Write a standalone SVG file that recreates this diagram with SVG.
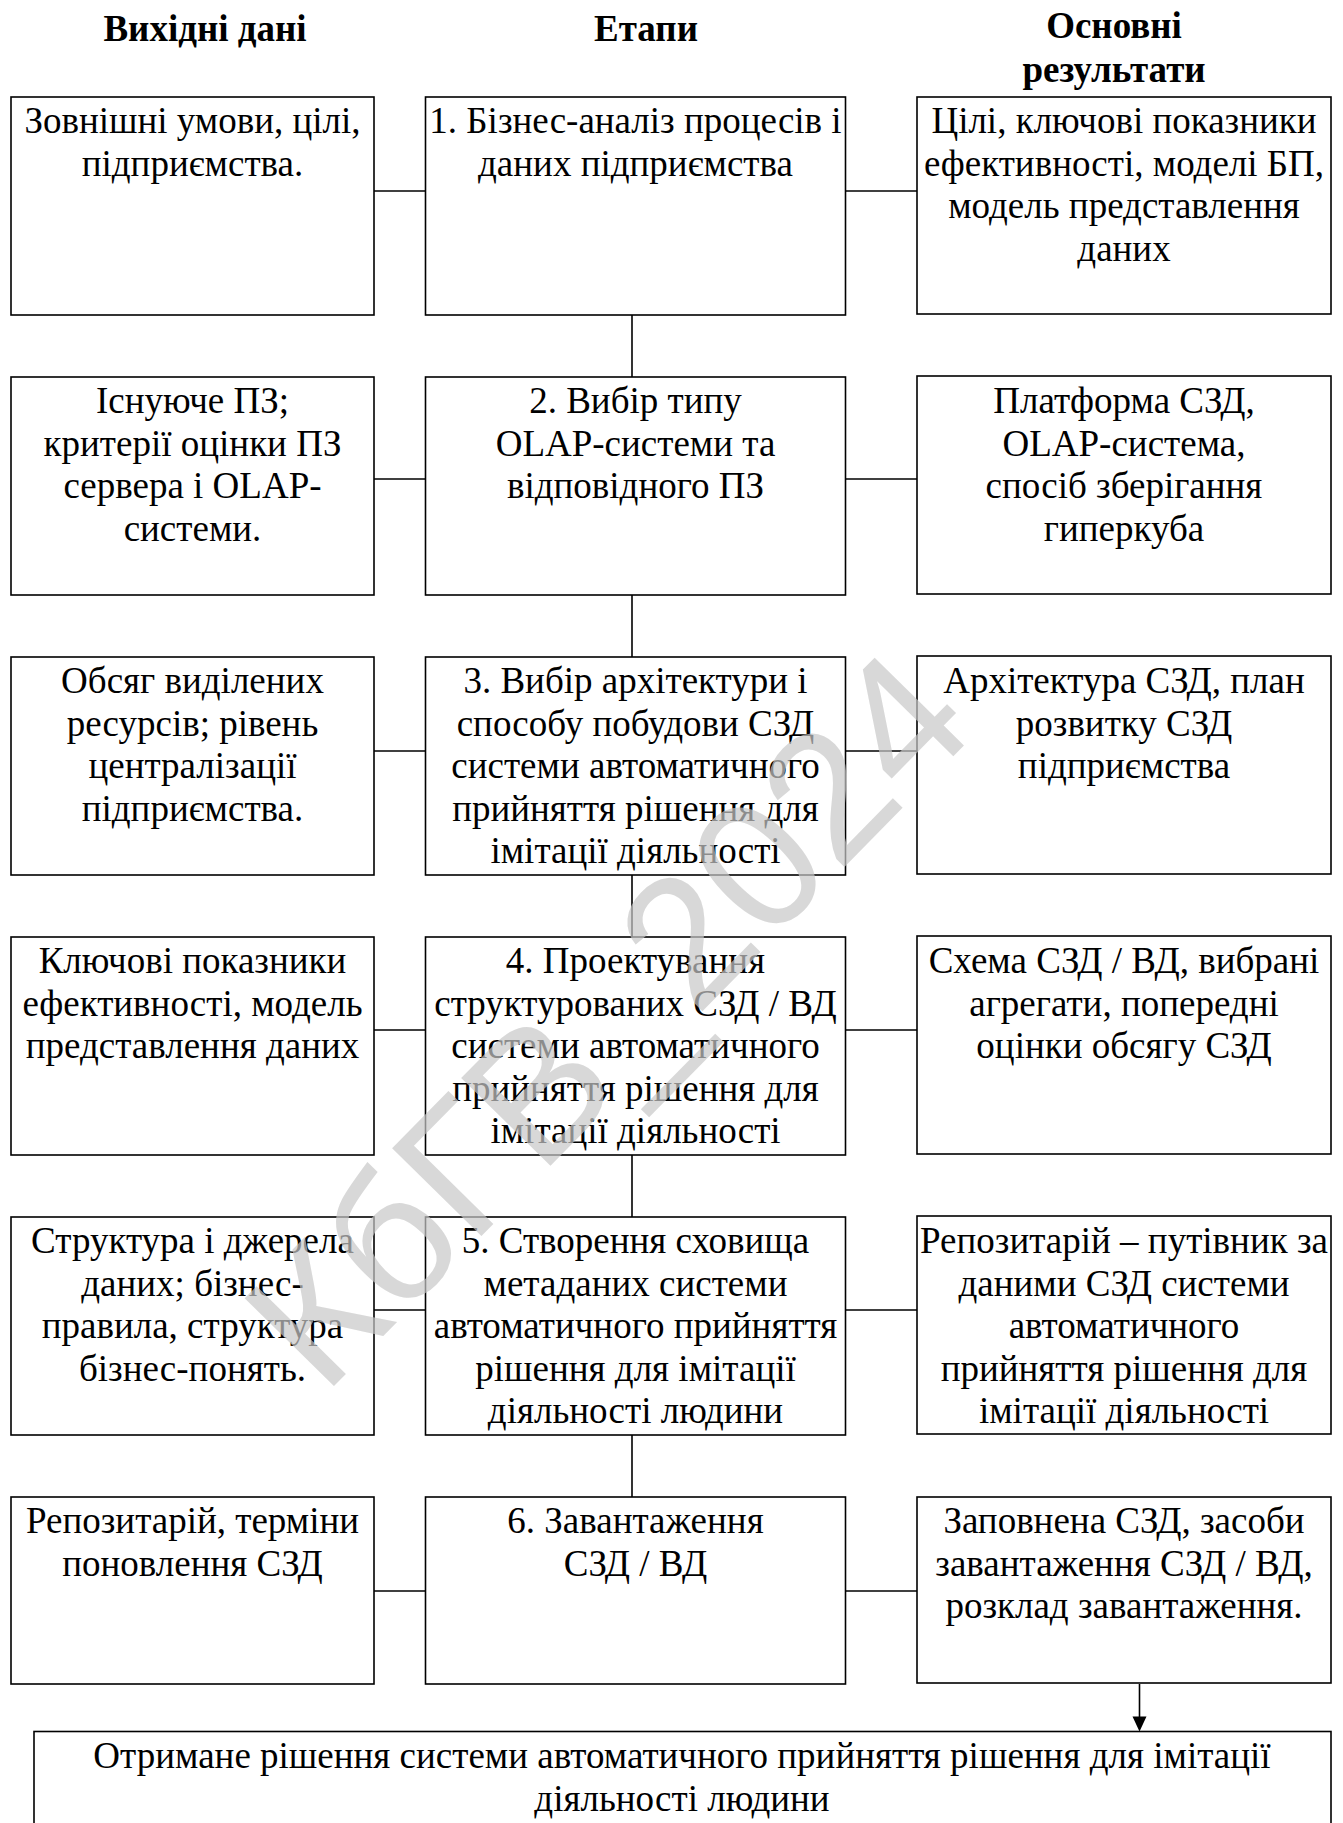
<svg xmlns="http://www.w3.org/2000/svg" width="1343" height="1823" viewBox="0 0 1343 1823">
<style>
.box{fill:#fff;stroke:#000;stroke-width:1.6}
.ln{fill:none;stroke:#000;stroke-width:1.6}
.t{font-family:"Liberation Serif","Times New Roman",serif;font-size:37px;text-anchor:middle;fill:#000}
.h{font-family:"Liberation Serif","Times New Roman",serif;font-size:37px;font-weight:bold;text-anchor:middle;fill:#000}
.wm{font-family:"Liberation Sans",Arial,sans-serif;font-size:182px;text-anchor:middle;fill:#c8c8c8;fill-opacity:0.7}
</style>
<rect width="1343" height="1823" fill="#fff"/>

<g id="headings">
<text class="h" x="205" y="41">Вихідні дані</text>
<text class="h" x="646" y="41">Етапи</text>
<text class="h" x="1114" y="38">Основні</text>
<text class="h" x="1114" y="82">результати</text>
</g>

<g id="connectors">
<line class="ln" x1="374" y1="191" x2="425.5" y2="191"/>
<line class="ln" x1="845.5" y1="191" x2="917" y2="191"/>
<line class="ln" x1="374" y1="479" x2="425.5" y2="479"/>
<line class="ln" x1="845.5" y1="479" x2="917" y2="479"/>
<line class="ln" x1="374" y1="751" x2="425.5" y2="751"/>
<line class="ln" x1="845.5" y1="751" x2="917" y2="751"/>
<line class="ln" x1="374" y1="1030" x2="425.5" y2="1030"/>
<line class="ln" x1="845.5" y1="1030" x2="917" y2="1030"/>
<line class="ln" x1="374" y1="1310" x2="425.5" y2="1310"/>
<line class="ln" x1="845.5" y1="1310" x2="917" y2="1310"/>
<line class="ln" x1="374" y1="1591" x2="425.5" y2="1591"/>
<line class="ln" x1="845.5" y1="1591" x2="917" y2="1591"/>
<line class="ln" x1="632" y1="315" x2="632" y2="377"/>
<line class="ln" x1="632" y1="595" x2="632" y2="657"/>
<line class="ln" x1="632" y1="875" x2="632" y2="937"/>
<line class="ln" x1="632" y1="1155" x2="632" y2="1217"/>
<line class="ln" x1="632" y1="1435" x2="632" y2="1497"/>
<line class="ln" x1="1139.5" y1="1684" x2="1139.5" y2="1718"/>
<path d="M1132.5,1716.5 L1146.5,1716.5 L1139.5,1731.5 Z" fill="#000"/>
</g>

<g id="in1"><rect class="box" x="11" y="97" width="363" height="218"/>
<text class="t" x="192.5" y="133">Зовнішні умови, цілі,</text>
<text class="t" x="192.5" y="175.5">підприємства.</text></g>
<g id="st1"><rect class="box" x="425.5" y="97" width="420" height="218"/>
<text class="t" x="635.5" y="133">1. Бізнес-аналіз процесів і</text>
<text class="t" x="635.5" y="175.5">даних підприємства</text></g>
<g id="out1"><rect class="box" x="917" y="97" width="414" height="217"/>
<text class="t" x="1124" y="133">Цілі, ключові показники</text>
<text class="t" x="1124" y="175.5">ефективності, моделі БП,</text>
<text class="t" x="1124" y="218">модель представлення</text>
<text class="t" x="1124" y="260.5">даних</text></g>

<g id="in2"><rect class="box" x="11" y="377" width="363" height="218"/>
<text class="t" x="192.5" y="413">Існуюче ПЗ;</text>
<text class="t" x="192.5" y="455.5">критерії оцінки ПЗ</text>
<text class="t" x="192.5" y="498">сервера і OLAP-</text>
<text class="t" x="192.5" y="540.5">системи.</text></g>
<g id="st2"><rect class="box" x="425.5" y="377" width="420" height="218"/>
<text class="t" x="635.5" y="413">2. Вибір типу</text>
<text class="t" x="635.5" y="455.5">OLAP-системи та</text>
<text class="t" x="635.5" y="498">відповідного ПЗ</text></g>
<g id="out2"><rect class="box" x="917" y="376" width="414" height="218"/>
<text class="t" x="1124" y="413">Платформа СЗД,</text>
<text class="t" x="1124" y="455.5">OLAP-система,</text>
<text class="t" x="1124" y="498">спосіб зберігання</text>
<text class="t" x="1124" y="540.5">гиперкуба</text></g>

<g id="in3"><rect class="box" x="11" y="657" width="363" height="218"/>
<text class="t" x="192.5" y="693">Обсяг виділених</text>
<text class="t" x="192.5" y="735.5">ресурсів; рівень</text>
<text class="t" x="192.5" y="778">централізації</text>
<text class="t" x="192.5" y="820.5">підприємства.</text></g>
<g id="st3"><rect class="box" x="425.5" y="657" width="420" height="218"/>
<text class="t" x="635.5" y="693">3. Вибір архітектури і</text>
<text class="t" x="635.5" y="735.5">способу побудови СЗД</text>
<text class="t" x="635.5" y="778">системи автоматичного</text>
<text class="t" x="635.5" y="820.5">прийняття рішення для</text>
<text class="t" x="635.5" y="863">імітації діяльності</text></g>
<g id="out3"><rect class="box" x="917" y="656" width="414" height="218"/>
<text class="t" x="1124" y="693">Архітектура СЗД, план</text>
<text class="t" x="1124" y="735.5">розвитку СЗД</text>
<text class="t" x="1124" y="778">підприємства</text></g>

<g id="in4"><rect class="box" x="11" y="937" width="363" height="218"/>
<text class="t" x="192.5" y="973">Ключові показники</text>
<text class="t" x="192.5" y="1015.5">ефективності, модель</text>
<text class="t" x="192.5" y="1058">представлення даних</text></g>
<g id="st4"><rect class="box" x="425.5" y="937" width="420" height="218"/>
<text class="t" x="635.5" y="973">4. Проектування</text>
<text class="t" x="635.5" y="1015.5">структурованих СЗД / ВД</text>
<text class="t" x="635.5" y="1058">системи автоматичного</text>
<text class="t" x="635.5" y="1100.5">прийняття рішення для</text>
<text class="t" x="635.5" y="1143">імітації діяльності</text></g>
<g id="out4"><rect class="box" x="917" y="936" width="414" height="218"/>
<text class="t" x="1124" y="973">Схема СЗД / ВД, вибрані</text>
<text class="t" x="1124" y="1015.5">агрегати, попередні</text>
<text class="t" x="1124" y="1058">оцінки обсягу СЗД</text></g>

<g id="in5"><rect class="box" x="11" y="1217" width="363" height="218"/>
<text class="t" x="192.5" y="1253">Структура і джерела</text>
<text class="t" x="192.5" y="1295.5">даних; бізнес-</text>
<text class="t" x="192.5" y="1338">правила, структура</text>
<text class="t" x="192.5" y="1380.5">бізнес-понять.</text></g>
<g id="st5"><rect class="box" x="425.5" y="1217" width="420" height="218"/>
<text class="t" x="635.5" y="1253">5. Створення сховища</text>
<text class="t" x="635.5" y="1295.5">метаданих системи</text>
<text class="t" x="635.5" y="1338">автоматичного прийняття</text>
<text class="t" x="635.5" y="1380.5">рішення для імітації</text>
<text class="t" x="635.5" y="1423">діяльності людини</text></g>
<g id="out5"><rect class="box" x="917" y="1216" width="414" height="218"/>
<text class="t" x="1124" y="1253">Репозитарій – путівник за</text>
<text class="t" x="1124" y="1295.5">даними СЗД системи</text>
<text class="t" x="1124" y="1338">автоматичного</text>
<text class="t" x="1124" y="1380.5">прийняття рішення для</text>
<text class="t" x="1124" y="1423">імітації діяльності</text></g>

<g id="in6"><rect class="box" x="11" y="1497" width="363" height="187"/>
<text class="t" x="192.5" y="1533">Репозитарій, терміни</text>
<text class="t" x="192.5" y="1575.5">поновлення СЗД</text></g>
<g id="st6"><rect class="box" x="425.5" y="1497" width="420" height="187"/>
<text class="t" x="635.5" y="1533">6. Завантаження</text>
<text class="t" x="635.5" y="1575.5">СЗД / ВД</text></g>
<g id="out6"><rect class="box" x="917" y="1497" width="414" height="186"/>
<text class="t" x="1124" y="1533">Заповнена СЗД, засоби</text>
<text class="t" x="1124" y="1575.5">завантаження СЗД / ВД,</text>
<text class="t" x="1124" y="1618">розклад завантаження.</text></g>

<g id="result"><rect class="box" x="34" y="1731.5" width="1297" height="110"/>
<text class="t" x="682" y="1768">Отримане рішення системи автоматичного прийняття рішення для імітації</text>
<text class="t" x="682" y="1810.5">діяльності людини</text></g>

<g id="watermark">
<text class="wm" x="605" y="1017" dy="0.36em" transform="rotate(-45.5 605 1017)">КбГВ_2024</text>
</g>
</svg>
